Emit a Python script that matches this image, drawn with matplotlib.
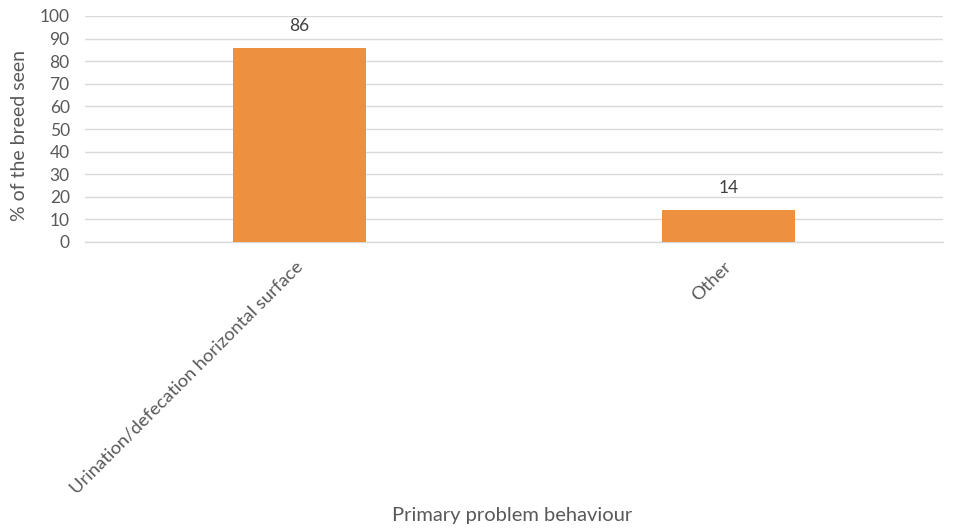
import matplotlib
matplotlib.use("Agg")
import matplotlib.pyplot as plt
import matplotlib.transforms as mtransforms

categories = ["Urination/defecation horizontal surface", "Other"]
values = [86, 14]
y_ticks = [0, 10, 20, 30, 40, 50, 60, 70, 80, 90, 100]

plt.rcParams["font.family"] = ["Lato", "DejaVu Sans"]
text_color = "#595959"
bar_color = "#ED9140"
grid_color = "#D9D9D9"

fig = plt.figure(figsize=(9.54, 5.30), dpi=100)
ax = fig.add_axes([85 / 954, 1 - 242 / 530, (943 - 85) / 954, (242 - 16) / 530])

x = list(range(len(categories)))
bars = ax.bar(x, values, width=0.312, color=bar_color, zorder=3)
ax.set_xlim(-0.5, len(categories) - 0.5)
ax.set_ylim(0, 100)
ax.set_yticks(y_ticks)
ax.set_yticklabels([str(t) for t in y_ticks])
ax.yaxis.grid(True, color=grid_color, linewidth=1, zorder=0)
ax.set_axisbelow(True)

for s in ["top", "right", "left"]:
    ax.spines[s].set_visible(False)
ax.spines["bottom"].set_color(grid_color)
ax.spines["bottom"].set_linewidth(1)

ax.tick_params(axis="both", length=0, colors=text_color)
ax.tick_params(axis="y", pad=11, labelsize=12.5)
ax.set_xticks(x)
ax.set_xticklabels(categories, rotation=45, ha="right", rotation_mode="anchor",
                   fontsize=13.3)
ax.tick_params(axis="x", pad=12)
shift = mtransforms.ScaledTranslation(-5 / 100, 0, fig.dpi_scale_trans)
for lbl in ax.get_xticklabels():
    lbl.set_transform(lbl.get_transform() + shift)

for b, v in zip(bars, values):
    ax.annotate(str(v), (b.get_x() + b.get_width() / 2, v),
                xytext=(0, 10), textcoords="offset points",
                ha="center", va="bottom", color="#404040", fontsize=12.5)

fig.text(20 / 954, 1 - 135 / 530, "% of the breed seen", rotation=90,
         ha="center", va="center", color=text_color, fontsize=14)
fig.text(512 / 954, 1 - 515 / 530, "Primary problem behaviour",
         ha="center", va="center", color=text_color, fontsize=14.5)

fig.savefig("out.png", dpi=100, facecolor="white")
